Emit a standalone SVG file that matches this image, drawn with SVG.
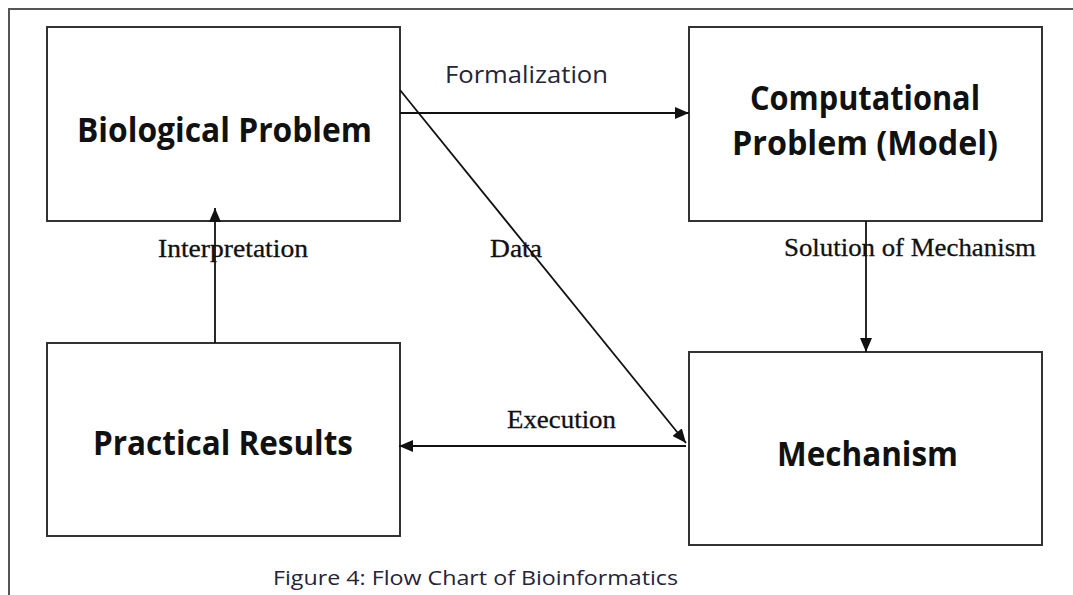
<svg xmlns="http://www.w3.org/2000/svg" width="1073" height="595" viewBox="0 0 1073 595">
  <style>
    .box { fill: #ffffff; stroke: #333333; stroke-width: 2; }
    .frame { fill: none; stroke: #555555; stroke-width: 2; }
    .title { font-family: "Open Sans", "Liberation Sans", sans-serif; font-weight: bold; font-size: 34px; fill: #111111; }
    .label-sans { font-family: "Open Sans", "Liberation Sans", sans-serif; font-size: 24px; fill: #24243a; }
    .label-serif { font-family: "Liberation Serif", "Times New Roman", serif; font-size: 25px; fill: #111111; stroke: #111111; stroke-width: 0.3; }
    .caption { font-family: "Open Sans", "Liberation Sans", sans-serif; font-size: 20px; fill: #24243a; }
    .conn { fill: none; stroke: #111111; stroke-width: 1.8; }
  </style>
  <defs>
    <marker id="arrow" viewBox="0 0 14 12" refX="14" refY="6" markerWidth="14" markerHeight="12" markerUnits="userSpaceOnUse" orient="auto">
      <path d="M0,0 L14,6 L0,12 z" fill="#111111"/>
    </marker>
  </defs>

  <rect x="0" y="0" width="1073" height="595" fill="#ffffff"/>

  <!-- outer page frame, open on the right and bottom -->
  <rect class="frame" x="9" y="9" width="1100" height="700"/>

  <g id="biological-problem">
    <rect class="box" x="47" y="27" width="353" height="194"/>
    <text class="title" x="77" y="142" textLength="295" lengthAdjust="spacingAndGlyphs">Biological Problem</text>
  </g>

  <g id="computational-problem">
    <rect class="box" x="689" y="27" width="353" height="194"/>
    <text class="title" x="750" y="110" textLength="230" lengthAdjust="spacingAndGlyphs">Computational</text>
    <text class="title" x="732" y="155" textLength="266" lengthAdjust="spacingAndGlyphs">Problem (Model)</text>
  </g>

  <g id="practical-results">
    <rect class="box" x="47" y="343" width="353" height="193"/>
    <text class="title" x="93" y="455" textLength="260" lengthAdjust="spacingAndGlyphs">Practical Results</text>
  </g>

  <g id="mechanism">
    <rect class="box" x="689" y="352" width="353" height="193"/>
    <text class="title" x="777" y="466" textLength="181" lengthAdjust="spacingAndGlyphs">Mechanism</text>
  </g>

  <g id="connectors">
    <!-- Formalization -->
    <line class="conn" x1="400" y1="113" x2="689" y2="113" marker-end="url(#arrow)"/>
    <!-- Data -->
    <line class="conn" x1="400" y1="90" x2="686" y2="443" marker-end="url(#arrow)"/>
    <!-- Solution of Mechanism -->
    <line class="conn" x1="866" y1="221" x2="866" y2="352" marker-end="url(#arrow)"/>
    <!-- Execution -->
    <line class="conn" x1="686" y1="446" x2="399" y2="446" marker-end="url(#arrow)"/>
    <!-- Interpretation -->
    <line class="conn" x1="215" y1="343" x2="215" y2="208" marker-end="url(#arrow)"/>
  </g>

  <g id="labels">
    <text class="label-sans" x="445" y="83" textLength="163" lengthAdjust="spacingAndGlyphs">Formalization</text>
    <text class="label-serif" x="158" y="257" textLength="150" lengthAdjust="spacingAndGlyphs">Interpretation</text>
    <text class="label-serif" x="490" y="257" textLength="52" lengthAdjust="spacingAndGlyphs">Data</text>
    <text class="label-serif" x="784" y="256" textLength="252" lengthAdjust="spacingAndGlyphs">Solution of Mechanism</text>
    <text class="label-serif" x="507" y="428" textLength="109" lengthAdjust="spacingAndGlyphs">Execution</text>
  </g>

  <text class="caption" x="273" y="585" textLength="405" lengthAdjust="spacingAndGlyphs">Figure 4: Flow Chart of Bioinformatics</text>
</svg>
